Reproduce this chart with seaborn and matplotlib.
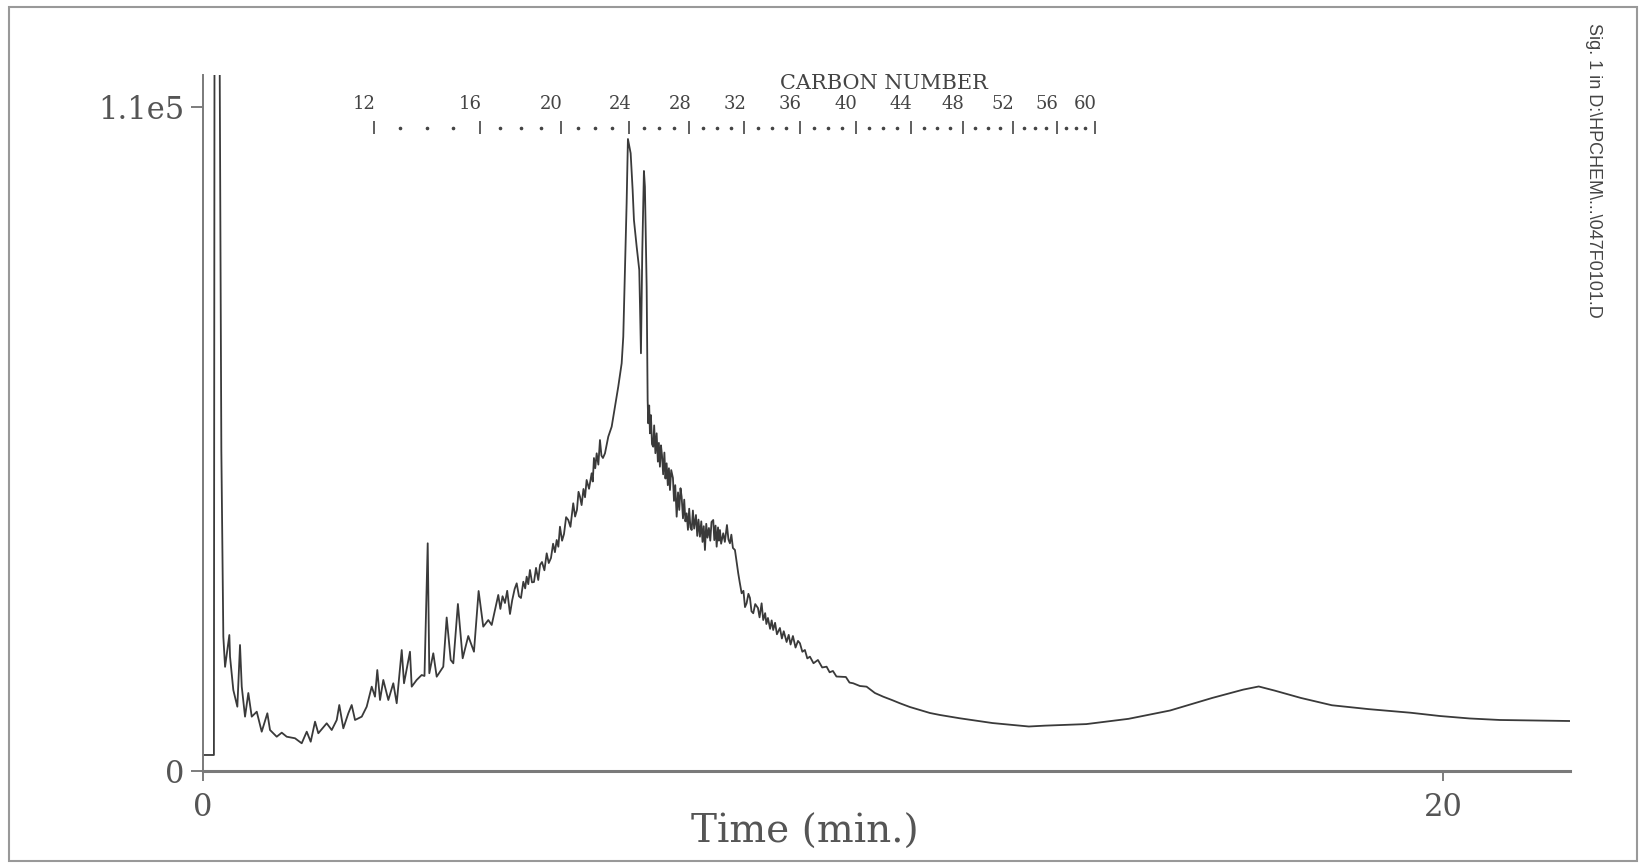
import numpy as np
import pandas as pd
import matplotlib
matplotlib.use("Agg")
import matplotlib.pyplot as plt
import matplotlib.patches as patches
import seaborn as sns

sns.set_theme(style="white")
plt.rcParams["font.family"] = ["DejaVu Serif"]

# Sinal do cromatograma (tempo em min, intensidade)
tempo = [
    0.00, 0.18, 0.19, 0.27, 0.30, 0.332, 0.360, 0.429, 0.440, 0.493, 0.558,
    0.601, 0.629, 0.682, 0.735, 0.790, 0.871, 0.951, 1.042, 1.085, 1.193,
    1.274, 1.354, 1.488, 1.596, 1.677, 1.741, 1.811, 1.864, 1.999, 2.080,
    2.161, 2.202, 2.267, 2.348, 2.402, 2.456, 2.564, 2.644, 2.725, 2.778,
    2.815, 2.859, 2.912, 2.993, 3.073, 3.128, 3.209, 3.246, 3.342, 3.370,
    3.450, 3.531, 3.576, 3.628, 3.654, 3.718, 3.773, 3.879, 3.934, 3.999,
    4.041, 4.115, 4.192, 4.282, 4.374, 4.449, 4.524, 4.605, 4.660, 4.766,
    4.800, 4.835, 4.874, 4.910, 4.955, 4.990, 5.030, 5.063, 5.100, 5.132,
    5.170, 5.200, 5.224, 5.250, 5.277, 5.310, 5.342, 5.375, 5.411, 5.440,
    5.471, 5.510, 5.547, 5.580, 5.616, 5.650, 5.680, 5.708, 5.735, 5.761,
    5.795, 5.826, 5.860, 5.895, 5.930, 5.975, 6.005, 6.035, 6.060, 6.084,
    6.110, 6.140, 6.165, 6.191, 6.230, 6.272, 6.290, 6.309, 6.330, 6.353,
    6.380, 6.406, 6.430, 6.454, 6.487, 6.540, 6.595, 6.648, 6.701,
    6.756, 6.782, 6.809, 6.836, 6.857, 6.901, 6.933, 6.954, 6.998, 7.040,
    7.067, 7.088, 7.115, 7.131, 7.159, 7.175, 7.185, 7.200, 7.212, 7.228,
    7.245, 7.265, 7.280, 7.300, 7.320, 7.340, 7.356, 7.373, 7.390, 7.406,
    7.425, 7.445, 7.462, 7.481, 7.500, 7.518, 7.535, 7.555, 7.583, 7.600,
    7.620, 7.643, 7.665, 7.685, 7.705, 7.723, 7.745, 7.765, 7.784, 7.804,
    7.825, 7.845, 7.865, 7.885, 7.905, 7.925, 7.954, 7.975, 7.995, 8.018,
    8.040, 8.060, 8.080, 8.099, 8.120, 8.140, 8.163, 8.185, 8.205, 8.233,
    8.250, 8.270, 8.288, 8.310, 8.325, 8.341, 8.360, 8.394, 8.420, 8.454,
    8.478, 8.502, 8.525, 8.550, 8.583, 8.610, 8.636, 8.660, 8.691, 8.720,
    8.745, 8.771, 8.800, 8.825, 8.850, 8.878, 8.910, 8.954, 8.980, 9.013,
    9.039, 9.070, 9.090, 9.115, 9.150, 9.175, 9.200, 9.230, 9.260, 9.308,
    9.340, 9.370, 9.416, 9.450, 9.480, 9.518, 9.560, 9.600, 9.631, 9.670,
    9.711, 9.750, 9.792, 9.850, 9.921, 9.990, 10.061, 10.110, 10.163, 10.220,
    10.276, 10.372, 10.430, 10.490, 10.598, 10.706, 10.840, 10.974, 11.114,
    11.243, 11.404, 11.565, 11.727, 11.888, 12.210, 12.738, 13.323, 13.580,
    14.250, 14.930, 15.600, 16.280, 16.780, 17.030, 17.290, 17.710, 18.210,
    18.800, 19.480, 19.950, 20.433, 20.917, 22.046,
]
sinal = [
    2600, 2600, 125000, 125000, 53000, 22200, 17200, 22480, 18890, 13370, 10600,
    20820, 13920, 8950, 12870, 8950, 9770, 6460, 9510, 6740, 5630,
    6300, 5630, 5370, 4540, 6460, 4800, 8120, 6200, 7850, 6740,
    8400, 10880, 7020, 9510, 10880, 8400, 8950, 10600, 13920, 12260,
    16680, 11710, 15030, 11710, 14480, 11170, 19990, 14480, 19710, 13920,
    15030, 15850, 15690, 37670, 16140, 19450, 15570, 17230, 25380, 18340,
    17790, 27620, 18620, 22310, 19710, 29770, 23860, 24960, 24140, 29110,
    26800, 28900, 27780, 29800, 25960, 28200, 30100, 31040, 28900, 28610,
    31300, 30200, 32140, 30900, 33250, 31200, 31260, 33600, 31590, 34100,
    34570, 33200, 36010, 34400, 35240, 37600, 36200, 38220, 37100, 40420,
    38100, 39210, 42000, 41530, 40400, 44300, 42100, 43190, 46200, 45390,
    44000, 46670, 45300, 48160, 46700, 49270, 47900, 51800, 50100, 52580,
    50700, 54780, 52200, 51800, 52580, 55330, 56990, 60300, 63610,
    67490, 71900, 82950, 94000, 104650, 102280, 96200, 91230, 86810, 82950,
    69150, 85710, 99350, 96750, 80180, 61410, 57550, 60500, 55890, 58900,
    54100, 53670, 57200, 52600, 55890, 51200, 54300, 50360, 53900, 52300,
    49100, 52700, 48400, 50920, 47300, 50100, 46500, 49800, 48490, 44700,
    47300, 42080, 46100, 43200, 46800, 45390, 41800, 44900, 41300, 42640,
    39900, 43400, 40300, 39870, 43100, 40100, 42360, 38900, 41600, 38760,
    41300, 37900, 40500, 36560, 40900, 38600, 40210, 38100, 41200, 41530,
    38200, 40600, 37110, 40300, 38100, 39870, 37600, 39330, 37900, 40700,
    38300, 37670, 39100, 36900, 36560, 34600, 32700, 31200, 29390, 29800,
    27100, 27730, 29300, 28610, 26400, 26080, 27600, 26950, 25400, 27730,
    24960, 26100, 24300, 25300, 23500, 24900, 23310, 24500, 22600, 23640,
    21900, 23100, 21320, 22500, 20900, 22310, 20400, 21500, 21110, 19700,
    20000, 18600, 18890, 17800, 18340, 17100, 17230, 16300, 16520, 15600,
    15570, 15520, 14600, 14480, 14030, 13920, 12870, 12260, 11710,
    11170, 10550, 10060, 9560, 9230, 8680, 7890, 7320, 7460,
    7720, 8590, 9970, 12050, 13430, 13950, 13260, 12050, 10840,
    10200, 9600, 9060, 8650, 8400, 8230,
]

# Escala de numero de carbonos (posicao em tempo dos marcadores principais)
carbonos = [12, 16, 20, 24, 28, 32, 36, 40, 44, 48, 52, 56, 60]
tempo_carbono = [2.755, 4.473, 5.781, 6.880, 7.850, 8.733, 9.631, 10.529,
                 11.42, 12.26, 13.06, 13.77, 14.39]

x_ticks = [0, 20]
y_ticks = [0, 110000]
y_labels = ["0", "1.1e5"]

df = pd.DataFrame({"tempo": tempo, "sinal": sinal})

fig = plt.figure(figsize=(16.39, 8.64), dpi=100)
ax = fig.add_axes([0.1237, 0.108, 0.8342, 0.8052])

sns.lineplot(data=df, x="tempo", y="sinal", ax=ax, color="#3a3a3a",
             linewidth=1.3, estimator=None, sort=False)

ax.set_xlim(0, 22.05)
ax.set_ylim(0, 115250)
ax.set_xticks(x_ticks)
ax.set_xticklabels([str(v) for v in x_ticks])
ax.set_yticks(y_ticks)
ax.set_yticklabels(y_labels)
ax.tick_params(axis="x", direction="out", length=7, width=1.2, color="#666",
               labelsize=22, labelcolor="#555", pad=8, bottom=True)
ax.tick_params(axis="y", direction="out", length=9, width=1.2, color="#666",
               labelsize=22, labelcolor="#555", pad=4, left=True)

for lado in ["top", "right"]:
    ax.spines[lado].set_visible(False)
ax.spines["bottom"].set_color("#7a7a7a")
ax.spines["bottom"].set_linewidth(2.2)
ax.spines["left"].set_color("#7a7a7a")
ax.spines["left"].set_linewidth(1.4)

ax.set_xlabel("Time (min.)", fontsize=28, color="#555")
ax.set_ylabel("")
ax.xaxis.label.set_va("center")
ax.xaxis.set_label_coords(0.4405, -0.088)

# Escala de carbonos no topo
trans = ax.get_xaxis_transform()
ax.vlines(tempo_carbono, 0.9152, 0.9339, transform=trans, color="#444", linewidth=1.2)
pontos = []
for a, b in zip(tempo_carbono[:-1], tempo_carbono[1:]):
    pontos.extend(np.linspace(a, b, 5)[1:-1])
ax.plot(pontos, [0.9238] * len(pontos), transform=trans, linestyle="none",
        marker="o", markersize=1.6, color="#444")
for c, t in zip(carbonos, tempo_carbono):
    ax.text(t + 0.03, 0.9583, str(c), transform=trans, ha="right", va="center",
            fontsize=13, color="#444")
ax.text(10.99, 0.9871, "CARBON NUMBER", transform=trans, ha="center",
        va="center", fontsize=15, color="#444")

# Texto lateral
fig.text(0.972, 0.973, "Sig. 1 in D:\\HPCHEM\\...\\047F0101.D", rotation=-90,
         ha="center", va="top", fontsize=13, color="#444",
         family=["Liberation Sans", "DejaVu Sans"])

# Moldura da figura
fig.add_artist(patches.Rectangle((0.0055, 0.003), 0.993, 0.989,
                                 transform=fig.transFigure, fill=False,
                                 edgecolor="#999", linewidth=1.5))

fig.savefig("out.png", dpi=100)
